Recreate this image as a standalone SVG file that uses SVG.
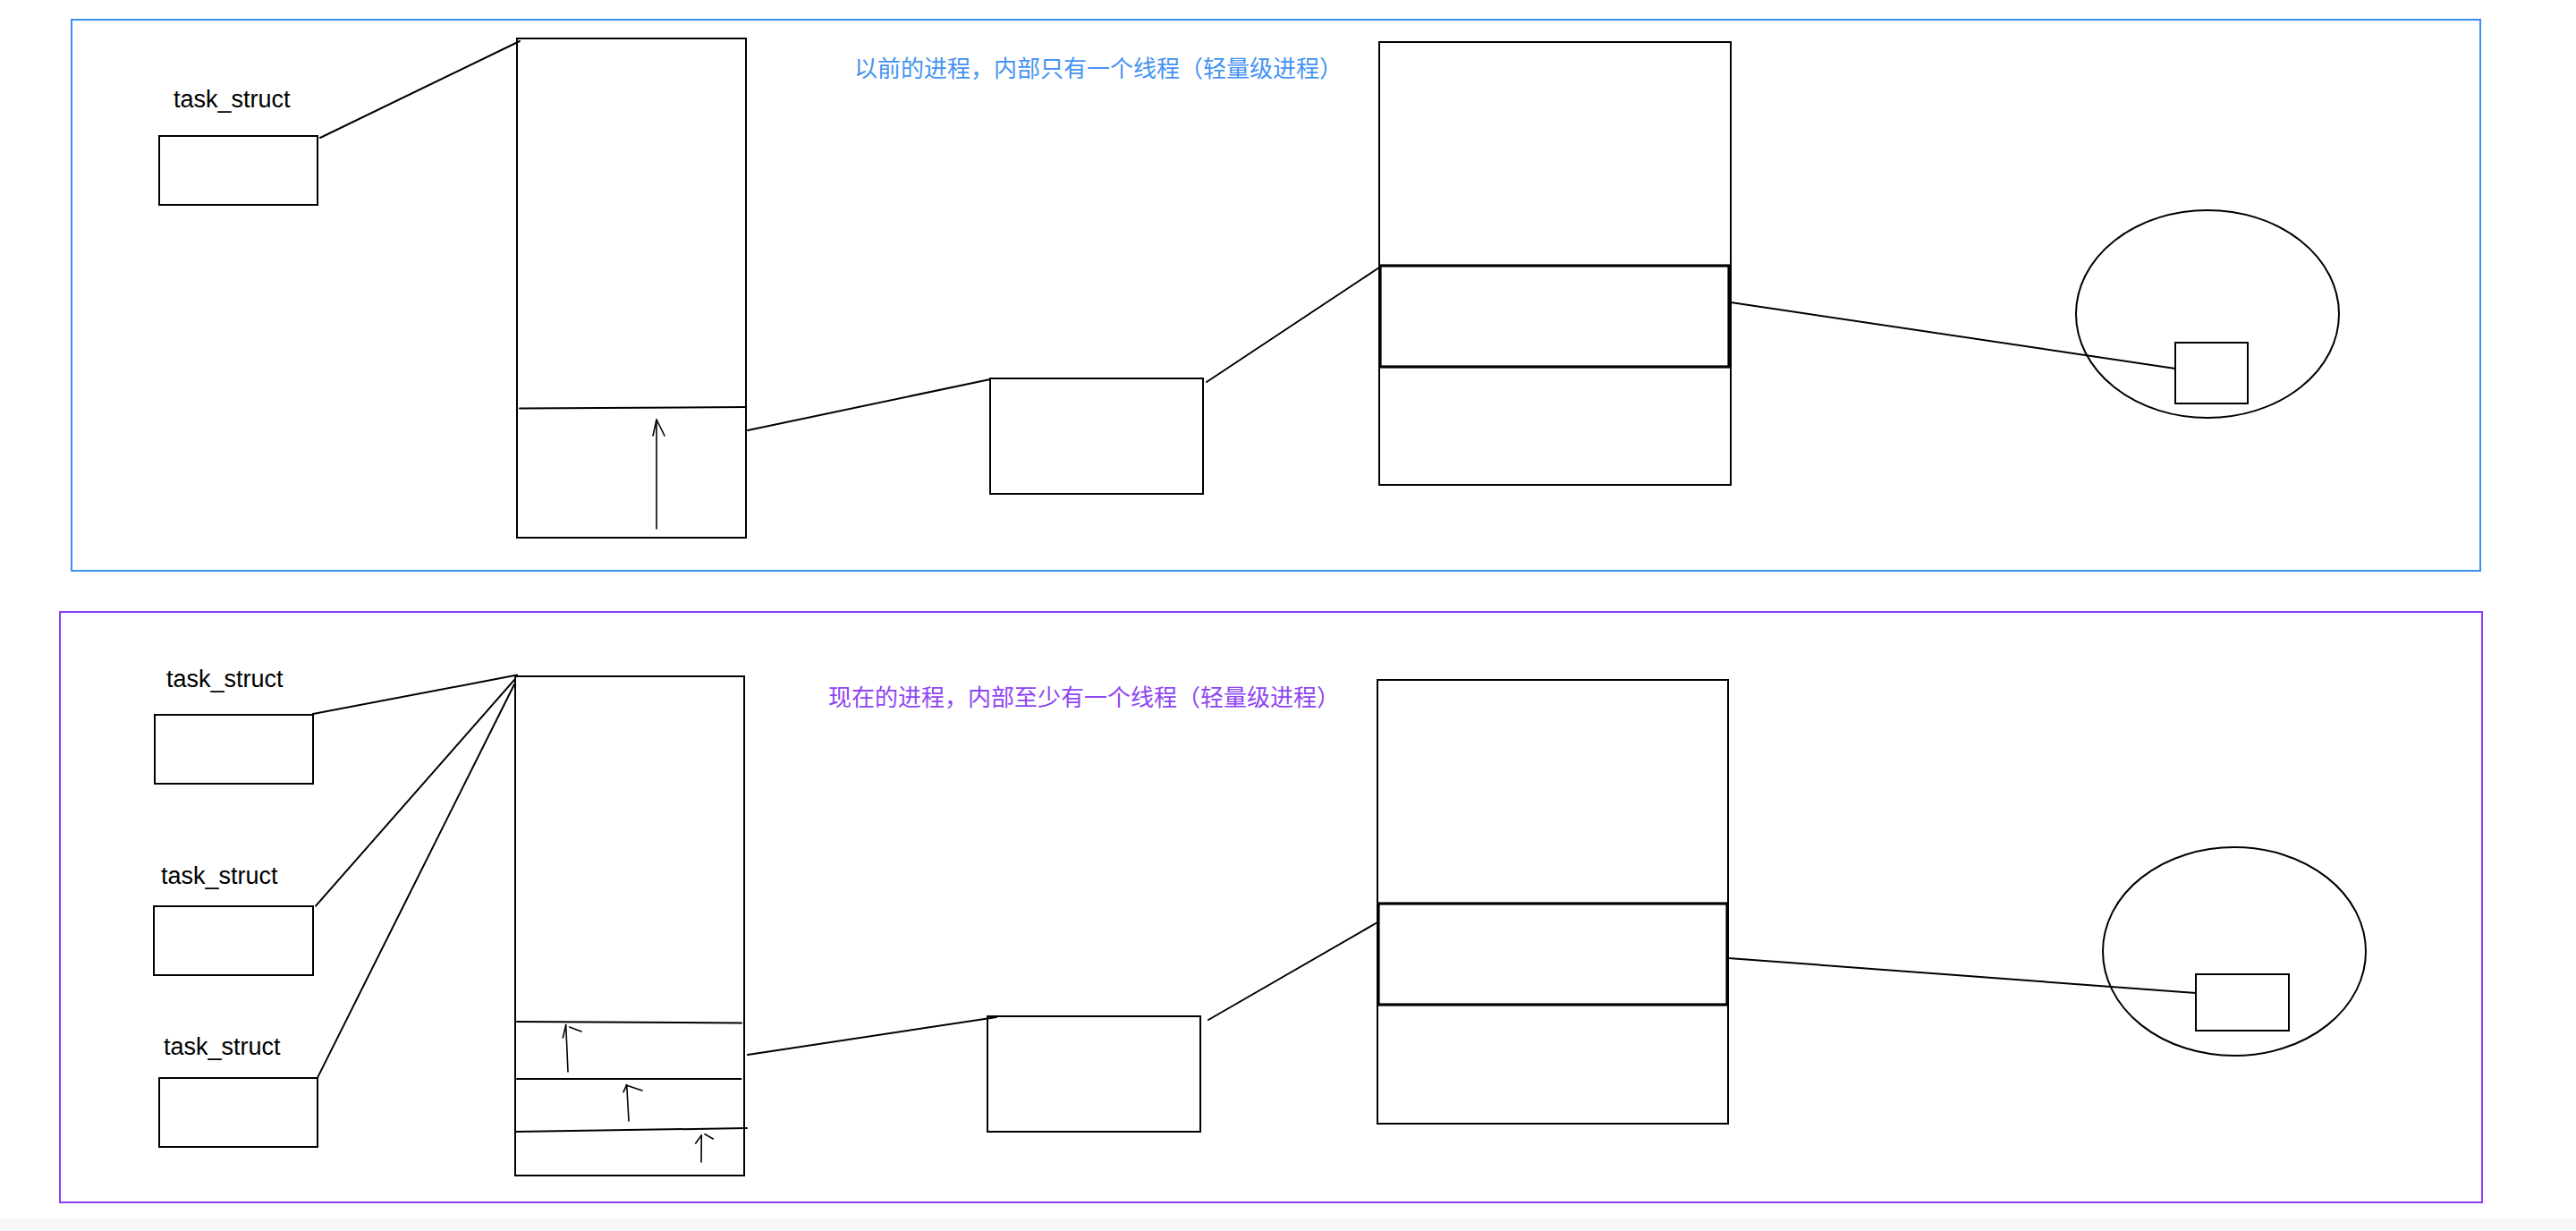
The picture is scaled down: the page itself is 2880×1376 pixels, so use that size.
<svg xmlns="http://www.w3.org/2000/svg" width="2880" height="1376" viewBox="0 0 2880 1376">
<style>
.box{fill:none;stroke:#000;stroke-width:2}
.thick{fill:none;stroke:#000;stroke-width:3.2}
.ln{fill:none;stroke:#000;stroke-width:2;stroke-linecap:round}
.thin{fill:none;stroke:#000;stroke-width:1.6;stroke-linecap:round;stroke-linejoin:round}
.lbl{font-family:"Liberation Sans",Arial,sans-serif;font-size:27px;fill:#000}
.cn{font-family:"Noto Sans CJK SC","Noto Sans",sans-serif;font-size:26px}
</style>
<rect x="0" y="0" width="2880" height="1376" fill="#fff"/>
<rect x="0" y="1362" width="2880" height="14" fill="#f7f7f7"/>

<g id="frame-top">
<rect x="80" y="22" width="2693" height="616" fill="none" stroke="#3d8ff5" stroke-width="2"/>
<text class="cn" x="955" y="86" fill="#4593f2">以前的进程，内部只有一个线程（轻量级进程）</text>
</g>
<g id="frame-bottom">
<rect x="67" y="684" width="2708" height="660" fill="none" stroke="#8b3ff5" stroke-width="2"/>
<text class="cn" x="926" y="789" fill="#8f45f2">现在的进程，内部至少有一个线程（轻量级进程）</text>
</g>

<g id="top-task">
<text class="lbl" x="194" y="120">task_struct</text>
<rect class="box" x="178" y="152" width="177" height="77"/>
</g>
<g id="top-mm">
<rect class="box" x="578" y="43" width="256" height="558"/>
<line class="ln" x1="581" y1="456.5" x2="834" y2="455"/>
<line class="thin" x1="734" y1="591" x2="734" y2="469"/>
<polyline class="thin" points="730,487 734,469 743,487"/>
</g>
<g id="top-vma">
<rect class="box" x="1107" y="423" width="238" height="129"/>
</g>
<g id="top-pt">
<rect class="box" x="1542" y="47" width="393" height="495"/>
<rect class="thick" x="1543" y="297" width="390" height="113"/>
</g>
<g id="top-mem">
<ellipse class="box" cx="2468" cy="351" rx="147" ry="116"/>
<rect class="box" x="2432" y="383" width="81" height="68"/>
</g>

<g id="bot-task1">
<text class="lbl" x="186" y="768">task_struct</text>
<rect class="box" x="173" y="799" width="177" height="77"/>
</g>
<g id="bot-task2">
<text class="lbl" x="180" y="988">task_struct</text>
<rect class="box" x="172" y="1013" width="178" height="77"/>
</g>
<g id="bot-task3">
<text class="lbl" x="183" y="1179">task_struct</text>
<rect class="box" x="178" y="1205" width="177" height="77"/>
</g>
<g id="bot-mm">
<rect class="box" x="576" y="756" width="256" height="558"/>
<line class="ln" x1="578" y1="1142" x2="829" y2="1143.5"/>
<line class="ln" x1="578" y1="1206" x2="828.5" y2="1206"/>
<line class="ln" x1="577" y1="1265" x2="835" y2="1261"/>
<line class="thin" x1="635" y1="1198" x2="632.7" y2="1145.5"/>
<line class="thin" x1="629.3" y1="1160" x2="632.7" y2="1145.5"/>
<line class="thin" x1="636.7" y1="1148" x2="650" y2="1153"/>
<line class="thin" x1="703" y1="1253" x2="700.7" y2="1212.7"/>
<line class="thin" x1="697" y1="1220.7" x2="700.7" y2="1212.7"/>
<line class="thin" x1="700" y1="1213" x2="718" y2="1219"/>
<line class="thin" x1="784" y1="1299" x2="784.3" y2="1269"/>
<line class="thin" x1="777.7" y1="1278" x2="784.3" y2="1269"/>
<line class="thin" x1="788" y1="1267.7" x2="797.3" y2="1273"/>
</g>
<g id="bot-vma">
<rect class="box" x="1104" y="1136" width="238" height="129"/>
</g>
<g id="bot-pt">
<rect class="box" x="1540" y="760" width="392" height="496"/>
<rect class="thick" x="1541" y="1010" width="390" height="113"/>
</g>
<g id="bot-mem">
<ellipse class="box" cx="2498" cy="1063.5" rx="147" ry="116.5"/>
<rect class="box" x="2455" y="1089" width="104" height="63"/>
</g>

<g id="connectors">
<line class="ln" x1="358" y1="154" x2="581" y2="46"/>
<line class="ln" x1="836" y1="481" x2="1107" y2="424"/>
<line class="ln" x1="1349" y1="427" x2="1542" y2="299"/>
<line class="ln" x1="1935" y1="338" x2="2432" y2="412"/>

<line class="ln" x1="350" y1="798" x2="578" y2="754.6"/>
<line class="ln" x1="353" y1="1012.6" x2="575" y2="760"/>
<line class="ln" x1="355" y1="1204.6" x2="575" y2="765"/>
<line class="ln" x1="836" y1="1179" x2="1114" y2="1137"/>
<line class="ln" x1="1351" y1="1140" x2="1540" y2="1031"/>
<line class="ln" x1="1932" y1="1071" x2="2455" y2="1110"/>
</g>
</svg>
